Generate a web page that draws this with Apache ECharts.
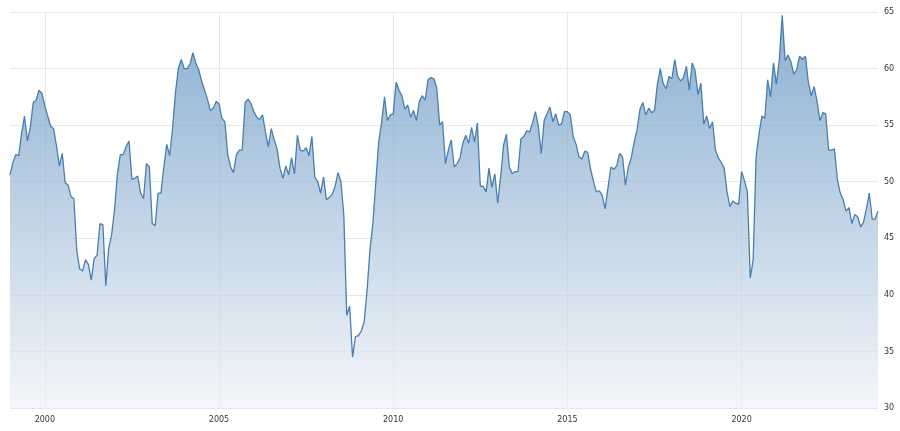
<!DOCTYPE html>
<html lang="en" style="height: 100%">
<head>
  <meta charset="utf-8">
</head>
<body style="height: 100%; margin: 0; background: #fff">
  <div id="container" style="height: 100%"></div>
  <script type="text/javascript" src="https://cdn.jsdelivr.net/npm/echarts@6/dist/echarts.min.js"></script>
  <script type="text/javascript">
    // monthly values, Jan 1999 .. Dec 2023
    var startYear = 1999;
    var values = [
      50.6, 51.7, 52.4, 52.3, 54.3, 55.8, 53.6, 54.8, 57.0, 57.2, 58.1, 57.8,
      56.7, 55.8, 54.9, 54.7, 53.2, 51.4, 52.5, 49.9, 49.7, 48.7, 48.5, 43.9,
      42.3, 42.1, 43.1, 42.7, 41.3, 43.2, 43.5, 46.3, 46.2, 40.8, 44.1, 45.3,
      47.5, 50.7, 52.4, 52.4, 53.1, 53.6, 50.2, 50.3, 50.5, 49.0, 48.5, 51.6,
      51.3, 46.3, 46.1, 49.0, 49.0, 51.3, 53.3, 52.3, 54.7, 57.9, 60.0, 60.8,
      60.0, 60.0, 60.4, 61.4, 60.5, 59.9, 58.9, 58.1, 57.3, 56.3, 56.5, 57.1,
      56.9, 55.6, 55.3, 52.4, 51.3, 50.8, 52.4, 52.8, 52.8, 57.0, 57.3, 56.9,
      56.2, 55.7, 55.5, 55.9, 54.4, 53.1, 54.7, 53.7, 52.9, 51.2, 50.3, 51.4,
      50.6, 52.1, 50.7, 54.1, 52.8, 52.7, 53.0, 52.3, 54.0, 50.4, 50.0, 49.0,
      50.4, 48.4, 48.6, 48.9, 49.6, 50.8, 50.0, 47.0, 38.2, 39.0, 34.5, 36.3,
      36.4, 36.8, 37.6, 40.4, 44.0, 46.3, 49.9, 53.5, 55.2, 57.5, 55.4, 55.9,
      56.0, 58.8, 58.1, 57.6, 56.4, 56.8, 55.7, 56.3, 55.4, 57.1, 57.6, 57.2,
      59.0, 59.2, 59.1, 58.3, 55.0, 55.3, 51.6, 52.8, 53.7, 51.3, 51.6, 52.1,
      53.4, 54.1, 53.4, 54.8, 53.5, 55.2, 49.6, 49.6, 49.1, 51.2, 49.5, 50.7,
      48.1, 50.4, 53.2, 54.2, 51.3, 50.7, 50.9, 50.9, 53.8, 54.0, 54.5, 54.4,
      55.2, 56.2, 54.9, 52.5, 55.4, 56.0, 56.6, 55.3, 56.0, 55.0, 55.1, 56.2,
      56.2, 55.9, 54.0, 53.3, 52.2, 52.0, 52.7, 52.6, 51.1, 50.0, 49.1, 49.2,
      48.8, 47.6, 49.5, 51.3, 51.1, 51.4, 52.5, 52.2, 49.7, 51.3, 52.1, 53.5,
      54.6, 56.4, 57.0, 55.9, 56.5, 56.1, 56.3, 58.6, 60.0, 58.7, 58.2, 59.3,
      59.1, 60.8, 59.3, 58.9, 59.2, 60.2, 58.1, 60.5, 59.8, 57.7, 58.7, 55.1,
      55.8, 54.7, 55.3, 52.8, 52.1, 51.7, 51.2, 49.1, 47.8, 48.3, 48.1, 48.0,
      50.9, 50.1, 49.1, 41.5, 43.1, 52.2, 54.2, 55.8, 55.6, 59.0, 57.5, 60.5,
      58.6, 60.8, 64.7, 60.7, 61.2, 60.6, 59.5, 59.9, 61.1, 60.8, 61.1, 58.8,
      57.6, 58.4, 57.1, 55.4, 56.1, 56.0, 52.8, 52.8, 52.9, 50.2, 49.0, 48.4,
      47.4, 47.7, 46.3, 47.1, 46.9, 46.0, 46.4, 47.6, 49.0, 46.7, 46.7, 47.4
    ];
    var months = values.map(function (v, i) {
      var y = startYear + Math.floor(i / 12);
      var m = (i % 12) + 1;
      return y + '-' + (m < 10 ? '0' + m : m);
    });
    var yMin = 30, yMax = 65, yStep = 5;

    function isYearTick(idx) {
      return idx % 12 === 0 && (startYear + idx / 12) % 5 === 0;
    }

    var chart = echarts.init(document.getElementById('container'), null, { renderer: 'canvas' });
    chart.setOption({
      animation: false,
      grid: { left: 10, right: 22, top: 12, bottom: 23 },
      xAxis: {
        type: 'category',
        data: months,
        boundaryGap: false,
        axisLine: { show: false },
        axisTick: { show: false },
        axisLabel: {
          interval: function (idx) { return isYearTick(idx); },
          formatter: function (v) { return v.slice(0, 4); },
          fontSize: 8, color: '#333', fontFamily: 'DejaVu Sans'
        },
        splitLine: {
          show: true,
          interval: function (idx) { return isYearTick(idx); },
          lineStyle: { color: '#e8e8e8' }
        }
      },
      yAxis: {
        type: 'value',
        position: 'right',
        min: yMin, max: yMax, interval: yStep,
        axisLine: { show: false },
        axisTick: { show: false },
        axisLabel: { fontSize: 8, color: '#333', margin: 6, fontFamily: 'DejaVu Sans' },
        splitLine: { lineStyle: { color: '#e8e8e8' } }
      },
      series: [{
        type: 'line',
        data: values,
        symbol: 'none',
        lineStyle: { color: '#4a7eae', width: 1.3 },
        areaStyle: {
          origin: 'start',
          color: new echarts.graphic.LinearGradient(0, 0, 0, 1, [
            { offset: 0, color: '#5a8dbd' },
            { offset: 1, color: '#eef2f7' }
          ])
        }
      }]
    });
  </script>
</body>
</html>
